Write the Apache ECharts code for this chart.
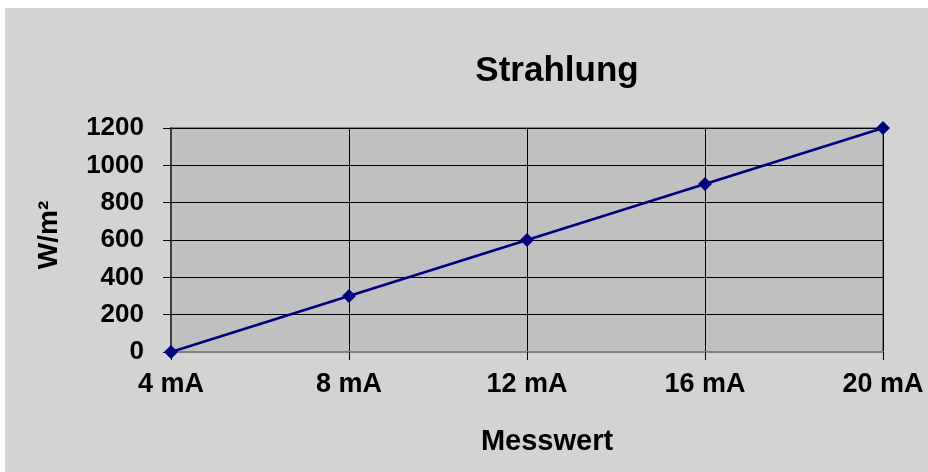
<!DOCTYPE html>
<html>
<head>
<meta charset="utf-8">
<script src="https://cdn.jsdelivr.net/npm/echarts@6/dist/echarts.min.js"></script>
<style>
  html, body { margin: 0; padding: 0; background: #ffffff; }
  #chart { width: 928px; height: 472px; }
</style>
</head>
<body>
<div id="chart"></div>
<script>
// Sensor current (mA) against irradiance (W/m²)
const categories = ['4 mA', '8 mA', '12 mA', '16 mA', '20 mA'];
const strahlung = [0, 300, 600, 900, 1200];
const yTicks = [0, 200, 400, 600, 800, 1000, 1200];

const FONT = '"Liberation Sans", Arial, sans-serif';

const chart = echarts.init(document.getElementById('chart'), null, { renderer: 'canvas' });

chart.setOption({
  backgroundColor: '#ffffff',
  animation: false,
  graphic: [
    {
      type: 'rect',
      z: -10,
      shape: { x: 5, y: 8, width: 923, height: 464 },
      style: { fill: '#d3d3d3' }
    }
  ],
  title: {
    text: 'Strahlung',
    left: 552,
    top: 49,
    textAlign: 'center',
    textStyle: { fontFamily: FONT, fontWeight: 'bold', fontSize: 35, color: '#000000' }
  },
  grid: {
    left: 171,
    right: 45,
    top: 128,
    bottom: 120,
    show: true,
    backgroundColor: '#c0c0c0',
    borderColor: '#808080',
    borderWidth: 2
  },
  xAxis: {
    type: 'category',
    data: categories,
    boundaryGap: false,
    name: 'Messwert',
    nameLocation: 'middle',
    nameGap: 75,
    nameTextStyle: { fontFamily: FONT, fontWeight: 'bold', fontSize: 29, color: '#000000', padding: [0, 0, 0, 40] },
    axisLine: { lineStyle: { color: '#808080', width: 2 } },
    axisTick: { show: true, length: 8, alignWithLabel: true, lineStyle: { color: '#000000', width: 1 } },
    axisLabel: { fontFamily: FONT, fontWeight: 'bold', fontSize: 27, color: '#000000', margin: 19 },
    splitLine: { show: true, lineStyle: { color: '#000000', width: 1 } }
  },
  yAxis: {
    type: 'value',
    min: yTicks[0],
    max: yTicks[yTicks.length - 1],
    interval: yTicks[1] - yTicks[0],
    name: 'W/m²',
    nameLocation: 'middle',
    nameGap: 108,
    nameRotate: 90,
    nameTextStyle: { fontFamily: FONT, fontWeight: 'bold', fontSize: 28, color: '#000000', padding: [0, 0, 0, 10] },
    axisLine: { show: true, lineStyle: { color: '#404040', width: 2 } },
    axisTick: { show: true, length: 8, lineStyle: { color: '#000000', width: 1 } },
    axisLabel: {
      fontFamily: FONT, fontWeight: 'bold', fontSize: 26, color: '#000000', margin: 27,
      formatter: (v) => String(v)
    },
    splitLine: { show: true, lineStyle: { color: '#000000', width: 1 } }
  },
  series: [
    {
      type: 'line',
      data: strahlung,
      symbol: 'diamond',
      symbolSize: 14,
      lineStyle: { color: '#000080', width: 2.5 },
      itemStyle: { color: '#000080' },
      z: 5
    }
  ]
});
</script>
</body>
</html>
